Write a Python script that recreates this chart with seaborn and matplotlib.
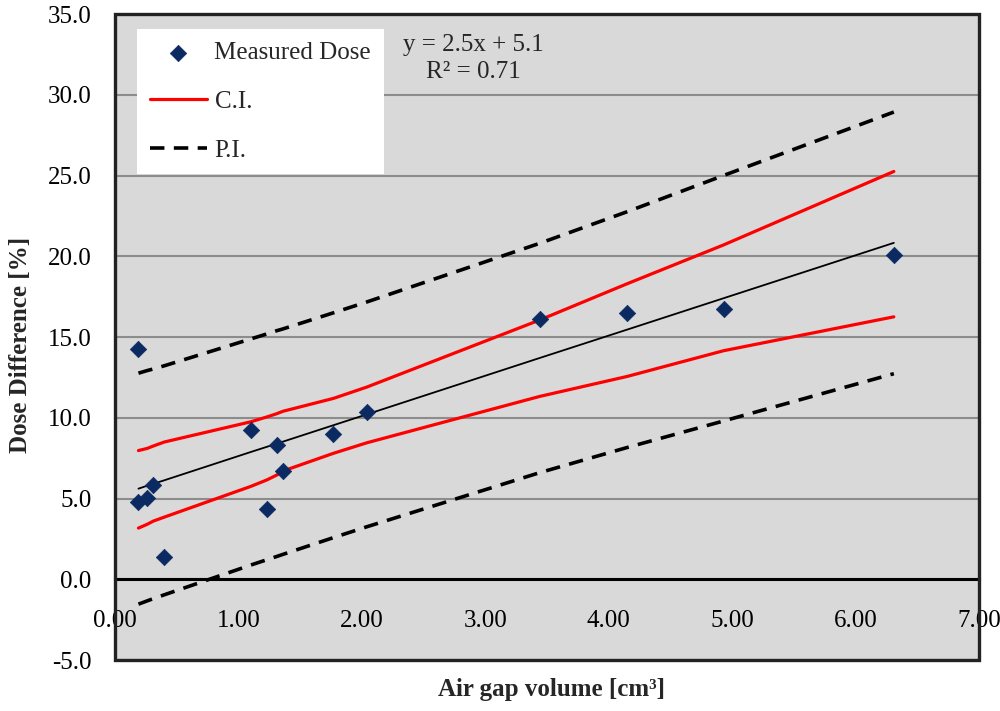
import matplotlib
matplotlib.use("Agg")
import matplotlib.pyplot as plt
import matplotlib.patches as mpatches
import seaborn as sns
import pandas as pd

# Data
air_gap = [0.19, 0.19, 0.26, 0.31, 0.40, 1.10, 1.23, 1.31, 1.36, 1.77, 2.04, 3.44, 4.15, 4.93, 6.31]
dose_diff = [4.80, 14.25, 5.01, 5.83, 1.35, 9.23, 4.33, 8.29, 6.68, 8.97, 10.37, 16.14, 16.49, 16.74, 20.10]

# x positions of the band lines (one per distinct x)
band_x = [0.19, 0.26, 0.31, 0.40, 1.10, 1.23, 1.31, 1.36, 1.77, 2.04, 3.44, 4.15, 4.93, 6.31]
fit_y = [5.61, 5.79, 5.91, 6.13, 7.88, 8.20, 8.40, 8.52, 9.54, 10.21, 13.70, 15.46, 17.40, 20.83]
ci_upper = [7.97, 8.10, 8.25, 8.50, 9.75, 10.05, 10.25, 10.40, 11.20, 11.90, 16.05, 18.30, 20.70, 25.25]
ci_lower = [3.17, 3.40, 3.60, 3.85, 5.75, 6.15, 6.45, 6.70, 7.80, 8.45, 11.32, 12.56, 14.15, 16.25]
pi_upper = [12.76, 12.92, 13.02, 13.22, 14.88, 15.19, 15.39, 15.50, 16.50, 17.17, 20.80, 22.76, 25.00, 28.93]
pi_lower = [-1.54, -1.34, -1.20, -0.96, 0.88, 1.21, 1.41, 1.54, 2.58, 3.25, 6.60, 8.16, 9.80, 12.73]

x_ticks = [0, 1, 2, 3, 4, 5, 6, 7]
y_ticks = [-5, 0, 5, 10, 15, 20, 25, 30, 35]

sns.set_theme(style="white")
plt.rcParams["font.family"] = ["Liberation Serif", "DejaVu Serif"]

points = pd.DataFrame({"x": air_gap, "y": dose_diff})
bands = pd.DataFrame({"x": band_x, "fit": fit_y, "ciu": ci_upper, "cil": ci_lower,
                      "piu": pi_upper, "pil": pi_lower})

fig = plt.figure(figsize=(10, 7.11), dpi=100)
ax = fig.add_axes([0.115, 0.0717, 0.864, 0.9086])
ax.set_facecolor("#D9D9D9")

navy = "#0C2A62"
sns.lineplot(data=bands, x="x", y="fit", ax=ax, color="black", lw=1.3,
             sort=False, estimator=None, zorder=3)
sns.lineplot(data=bands, x="x", y="ciu", ax=ax, color="#FF0000", lw=2.3,
             sort=False, estimator=None, label="C.I.", zorder=3)
sns.lineplot(data=bands, x="x", y="cil", ax=ax, color="#FF0000", lw=2.3,
             sort=False, estimator=None, zorder=3)
sns.lineplot(data=bands, x="x", y="piu", ax=ax, color="black", lw=2.6,
             sort=False, estimator=None, label="P.I.", zorder=3)
sns.lineplot(data=bands, x="x", y="pil", ax=ax, color="black", lw=2.6,
             sort=False, estimator=None, zorder=3)
for ln in ax.lines[3:]:
    ln.set_dashes([4.0, 2.6])
sns.scatterplot(data=points, x="x", y="y", ax=ax, marker="D", s=70, color=navy,
                edgecolor=navy, linewidth=0.5, label="Measured Dose", zorder=4)

ax.set_xlim(0, 7)
ax.set_ylim(-5, 35)
ax.set_xticks(x_ticks)
ax.set_yticks(y_ticks)
ax.set_xticklabels([f"{v:.2f}" for v in x_ticks])
ax.set_yticklabels([f"{v:.1f}" for v in y_ticks])
ax.tick_params(axis="x", direction="inout", length=10, width=1.2, pad=17,
               labelsize=18, color="black", labelcolor="black")
ax.tick_params(axis="y", length=0, pad=17, labelsize=18, labelcolor="black")

ax.yaxis.grid(True, color="#8C8C8C", lw=1.5)
ax.xaxis.grid(False)
ax.set_axisbelow(True)

for side in ["top", "left", "right"]:
    ax.spines[side].set_visible(False)
ax.spines["bottom"].set_position(("data", 0))
ax.spines["bottom"].set_color("black")
ax.spines["bottom"].set_linewidth(2.2)
ax.spines["bottom"].set_zorder(2)
border = mpatches.Rectangle((0, 0), 1, 1, transform=ax.transAxes, fill=False,
                            edgecolor="#222222", lw=2.4, clip_on=False, zorder=5)
ax.add_patch(border)

ax.set_xlabel("")
ax.set_ylabel("")
fig.text(0.552, 0.03, "Air gap volume [cm\u00b3]", ha="center", va="center",
         fontsize=18, fontweight="bold")
fig.text(0.021, 0.515, "Dose Difference [%]", ha="center", va="center",
         rotation=90, fontsize=18, fontweight="bold")

fig.text(0.473, 0.952, "y = 2.5x + 5.1\nR\u00b2 = 0.71", ha="center", va="top",
         fontsize=18, linespacing=1.3)

handles, labels = ax.get_legend_handles_labels()
order = [labels.index("Measured Dose"), labels.index("C.I."), labels.index("P.I.")]
leg = ax.legend([handles[i] for i in order], [labels[i] for i in order],
                loc="upper left", bbox_to_anchor=(0.137, 0.959),
                bbox_transform=fig.transFigure, frameon=True, fancybox=False,
                framealpha=1, edgecolor="white", facecolor="white",
                fontsize=18, handlelength=2.3, handletextpad=0.3,
                labelspacing=1.05, borderpad=0.5, borderaxespad=0)
leg.get_frame().set_linewidth(0)

fig.savefig("out.png", dpi=100)
